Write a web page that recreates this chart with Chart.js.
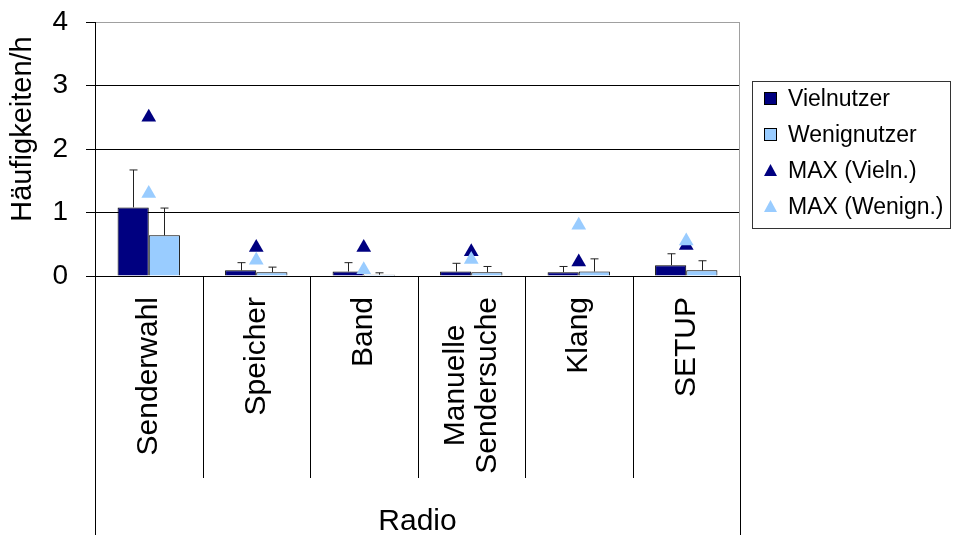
<!DOCTYPE html>
<html>
<head>
<meta charset="utf-8">
<script src="https://cdn.jsdelivr.net/npm/chart.js@4.4.1/dist/chart.umd.min.js"></script>
<style>
  html, body { margin: 0; padding: 0; background: #fff; }
  #wrap { position: relative; width: 954px; height: 535px; }
</style>
</head>
<body>
<div id="wrap"><canvas id="radioChart"></canvas></div>
<script>
// data
const categories = ['Senderwahl', 'Speicher', 'Band', ['Manuelle', 'Sendersuche'], 'Klang', 'SETUP'];
const vielMean = [1.08, 0.09, 0.07, 0.07, 0.06, 0.17];
const vielSd = [0.59, 0.12, 0.14, 0.13, 0.09, 0.18];
const wenigMean = [0.64, 0.06, 0.02, 0.06, 0.07, 0.09];
const wenigSd = [0.43, 0.08, 0.03, 0.09, 0.20, 0.15];
const maxViel = [2.5, 0.45, 0.45, 0.38, 0.22, 0.48];
const maxWenig = [1.3, 0.25, 0.1, 0.26, 0.8, 0.55];
const yMin = 0;
const yMax = 4;
const yStep = 1;
const groupTitle = 'Radio';
const yTitle = 'Häufigkeiten/h';

const DARK = '#000080';
const LIGHT = '#99CCFF';
const BORDER = '#a0a0a0';
const FONT = "'Liberation Sans', Arial, sans-serif";

// upward error bars, drawn right after their bar dataset
const errorBars = {
    id: 'errorBars',
    afterDatasetDraw: function (chart, args) {
        const ds = chart.data.datasets[args.index];
        if (!ds.errors) return;
        const ctx = chart.ctx;
        const y = chart.scales.y;
        ctx.save();
        ctx.strokeStyle = '#222';
        ctx.lineWidth = 1;
        args.meta.data.forEach(function (bar, i) {
            const top = y.getPixelForValue(ds.data[i] + ds.errors[i]);
            const x = Math.round(bar.x) + 0.5;
            ctx.beginPath();
            ctx.moveTo(x, bar.y);
            ctx.lineTo(x, top);
            ctx.moveTo(x - 4, top);
            ctx.lineTo(x + 4, top);
            ctx.stroke();
        });
        ctx.restore();
    }
};

// category labels and dividers under the axis, frame lines, y title and boxed legend
const frame = {
    id: 'frame',
    afterDraw: function (chart) {
        const ctx = chart.ctx;
        const area = chart.chartArea;
        const xs = chart.scales.x;
        const n = categories.length;
        const step = (xs.right - xs.left) / n;
        ctx.save();
        ctx.strokeStyle = '#000';
        ctx.lineWidth = 1;
        ctx.beginPath();
        for (let i = 0; i <= n; i++) {
            const x = Math.round(xs.left + i * step) + 0.5;
            const bottom = (i === 0 || i === n) ? chart.height : 478;
            ctx.moveTo(x, area.bottom);
            ctx.lineTo(x, bottom);
        }
        ctx.stroke();
        // right border of plot
        ctx.strokeStyle = BORDER;
        ctx.beginPath();
        ctx.moveTo(Math.round(area.right) - 0.5, area.top);
        ctx.lineTo(Math.round(area.right) - 0.5, area.bottom);
        ctx.stroke();

        // category labels, rotated, top aligned, multi-line centred
        ctx.fillStyle = '#000';
        ctx.font = '30px ' + FONT;
        ctx.textBaseline = 'middle';
        categories.forEach(function (label, i) {
            const lines = Array.isArray(label) ? label : [label];
            const widest = Math.max.apply(null, lines.map(function (t) { return ctx.measureText(t).width; }));
            ctx.save();
            ctx.translate(xs.getPixelForValue(i), area.bottom + 21);
            ctx.rotate(-Math.PI / 2);
            ctx.textAlign = 'center';
            lines.forEach(function (t, j) {
                ctx.fillText(t, -widest / 2, (j - (lines.length - 1) / 2) * 32);
            });
            ctx.restore();
        });

        // y axis title
        ctx.font = '29px ' + FONT;
        ctx.textAlign = 'center';
        ctx.translate(23, 129);
        ctx.rotate(-Math.PI / 2);
        ctx.fillText(yTitle, 0, 0);
        ctx.restore();

        // legend
        ctx.save();
        ctx.strokeStyle = '#333';
        ctx.lineWidth = 1;
        ctx.strokeRect(752.5, 81.5, 198, 147);
        ctx.strokeStyle = '#000';
        ctx.font = '23px ' + FONT;
        ctx.textAlign = 'left';
        ctx.textBaseline = 'middle';
        chart.data.datasets.forEach(function (ds, i) {
            const cy = 99 + i * 36;
            if (ds.type === 'bar') {
                ctx.fillStyle = ds.backgroundColor;
                ctx.fillRect(764.5, cy - 6.5, 12, 12);
                ctx.strokeRect(764.5, cy - 6.5, 12, 12);
            } else {
                ctx.fillStyle = ds.pointBackgroundColor;
                ctx.beginPath();
                ctx.moveTo(770.5, cy - 7);
                ctx.lineTo(777, cy + 5);
                ctx.lineTo(764, cy + 5);
                ctx.closePath();
                ctx.fill();
            }
            ctx.fillStyle = '#000';
            ctx.fillText(ds.label, 788, cy + 1);
        });
        ctx.restore();
    }
};

new Chart(document.getElementById('radioChart'), {
    data: {
        labels: categories,
        datasets: [
            {
                type: 'bar', label: 'Vielnutzer', data: vielMean, errors: vielSd,
                backgroundColor: DARK, borderColor: '#000', borderWidth: 1, order: 2
            },
            {
                type: 'bar', label: 'Wenignutzer', data: wenigMean, errors: wenigSd,
                backgroundColor: LIGHT, borderColor: '#000', borderWidth: 1, order: 3
            },
            {
                type: 'line', label: 'MAX (Vieln.)', data: maxViel, showLine: false,
                pointStyle: 'triangle', pointRadius: 8.5, pointBorderWidth: 0,
                pointBackgroundColor: DARK, pointBorderColor: DARK, order: 1
            },
            {
                type: 'line', label: 'MAX (Wenign.)', data: maxWenig, showLine: false,
                pointStyle: 'triangle', pointRadius: 8.5, pointBorderWidth: 0,
                pointBackgroundColor: LIGHT, pointBorderColor: LIGHT, order: 0
            }
        ]
    },
    options: {
        responsive: true,
        maintainAspectRatio: false,
        animation: false,
        events: [],
        layout: { padding: { top: 22, right: 214, bottom: 0, left: 0 } },
        datasets: { bar: { categoryPercentage: 0.58, barPercentage: 1 } },
        plugins: { legend: { display: false }, tooltip: { enabled: false } },
        scales: {
            x: {
                offset: true,
                grid: { display: false },
                border: { display: false },
                ticks: { display: false },
                title: {
                    display: true, text: groupTitle, color: '#000', padding: { top: 0, bottom: -5 },
                    font: { family: FONT, size: 30 }
                },
                afterFit: function (scale) { scale.height = 259; }
            },
            y: {
                min: yMin, max: yMax,
                grid: {
                    color: function (c) { return c.tick && c.tick.value === yMax ? BORDER : '#000'; },
                    lineWidth: 1, drawTicks: true, tickLength: 9, tickColor: '#000'
                },
                border: { display: true, color: '#000' },
                ticks: {
                    stepSize: yStep, padding: 18, color: '#000',
                    font: { family: FONT, size: 28 }
                },
                afterFit: function (scale) {
                    scale.width = 95;
                    scale.paddingTop = 0;
                    scale.paddingBottom = 0;
                }
            }
        }
    },
    plugins: [errorBars, frame]
});
</script>
</body>
</html>
